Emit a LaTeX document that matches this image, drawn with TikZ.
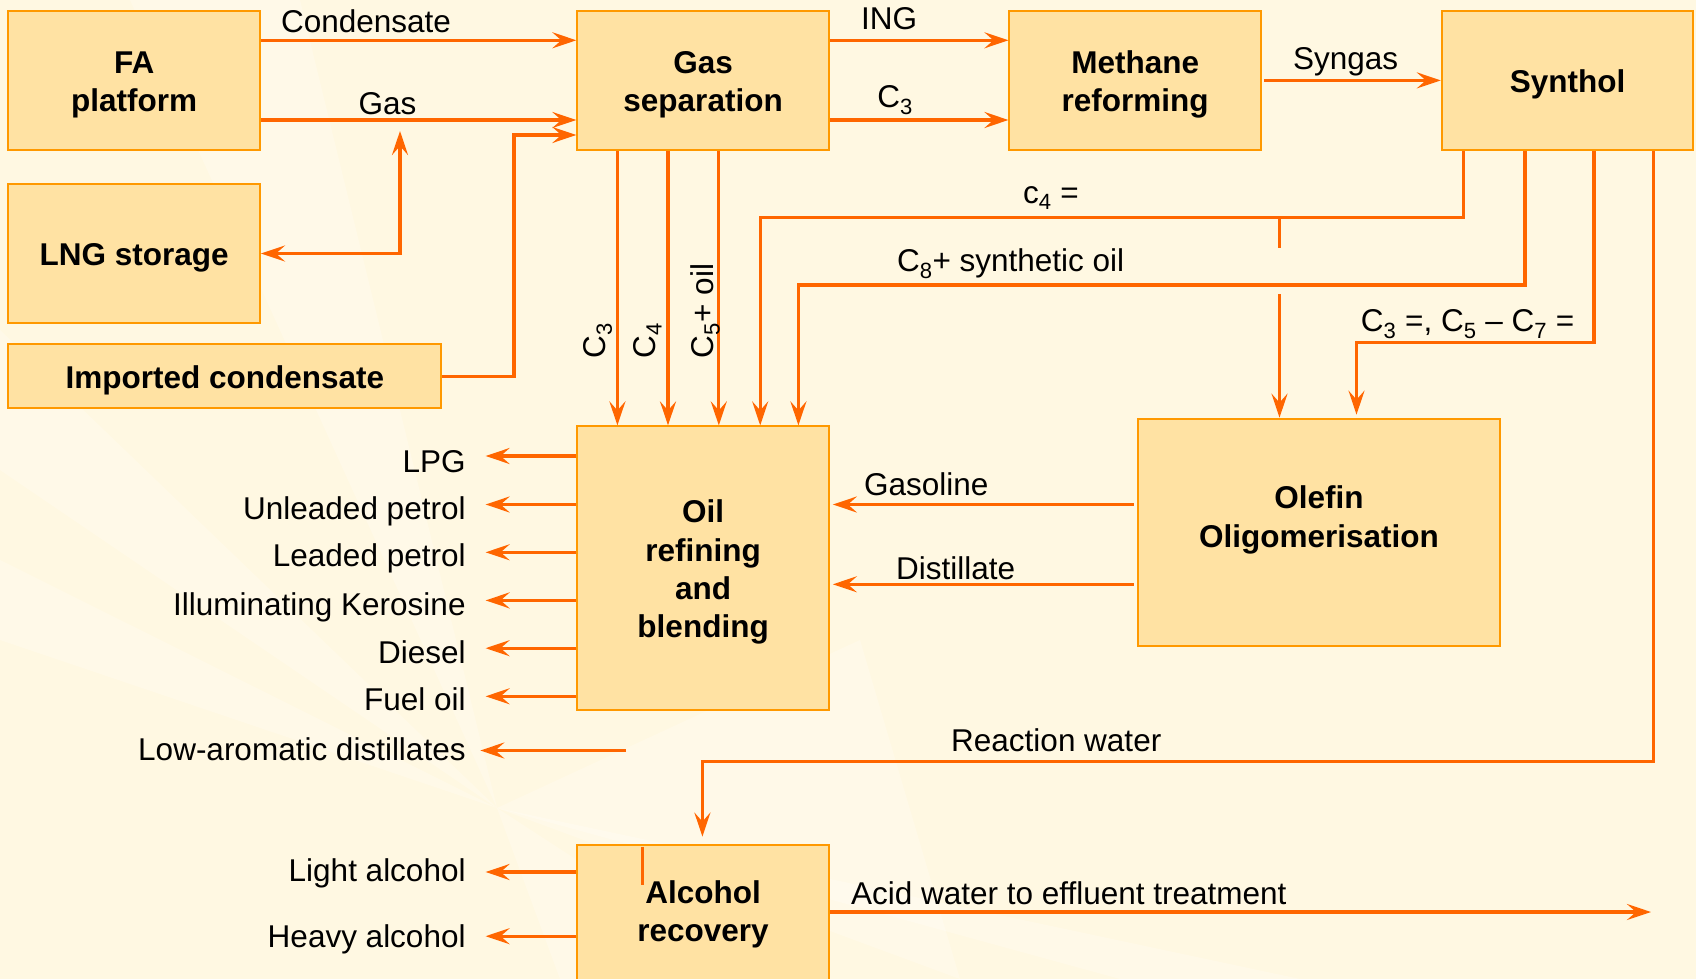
\documentclass[tikz,border=0pt]{standalone}
\usepackage{fontspec}
\setmainfont{Liberation Sans}
\usetikzlibrary{arrows.meta,calc}
\definecolor{bgc}{RGB}{255,248,226}
\definecolor{boxc}{RGB}{255,226,163}
\definecolor{bordc}{RGB}{255,153,0}
\definecolor{arrc}{RGB}{255,102,0}
\newcommand{\upstrut}{\rule{0pt}{31pt}}
\begin{document}
\begin{tikzpicture}[x=1pt,y=-1pt,
  box/.style={draw=bordc, fill=boxc, line width=2pt, minimum width=251.5pt, inner sep=0pt, align=center, font=\fontsize{31.5}{38.3}\selectfont\bfseries},
  boxtext/.style={inner sep=0pt, align=center, font=\fontsize{31.5}{38.3}\selectfont\bfseries},
  pipe/.style={draw=arrc, line width=3.3pt},
  flow/.style={pipe, -{Stealth[length=24pt,width=16pt,inset=9pt]}},
  both/.style={pipe, {Stealth[length=24pt,width=16pt,inset=9pt]}-{Stealth[length=24pt,width=16pt,inset=9pt]}},
  lbl/.style={inner sep=0pt, font=\fontsize{31.5}{38}\selectfont},
  ray/.style={fill=white, opacity=0.22, draw=none}
]
\clip (0,0) rectangle (1696,979);
\fill[bgc] (0,0) rectangle (1696,979);
% faint background rays
\fill[ray] (497,808) -- (0,330) -- (0,470) -- cycle;
\fill[ray] (497,808) -- (130,0) -- (300,0) -- cycle;
\fill[ray] (497,808) -- (0,560) -- (0,640) -- cycle;
\fill[ray] (497,808) -- (1120,979) -- (1300,979) -- cycle;
\fill[ray] (497,808) -- (760,979) -- (560,979) -- cycle;
\fill[ray] (497,808) -- (860,640) -- (960,979) -- cycle;

% boxes
\node[box, minimum height=139.3pt] (fa) at (134.2,80.4) {\upstrut FA\\platform};
\node[box, minimum height=139pt] (lng) at (134.2,253.5) {\upstrut LNG storage};
\node[box, minimum width=432.9pt, minimum height=64pt] (imp) at (224.9,376.3) {\upstrut Imported condensate};
\node[box, minimum height=139.3pt] (gs) at (703.1,80.4) {\upstrut Gas\\separation};
\node[box, minimum height=139.3pt] (mr) at (1135.2,80.4) {\upstrut Methane\\reforming};
\node[box, minimum width=251.4pt, minimum height=139.3pt] (syn) at (1567.5,80.4) {\upstrut Synthol};
\node[box, minimum height=283.4pt] (oil) at (703.1,568.1) {\upstrut Oil\\refining\\and\\blending};
\node[box, minimum width=362.4pt, minimum height=227.1pt] (ole) at (1319,532.2) {};
\node[boxtext] (oleT) at (1319,520) {Olefin\\Oligomerisation};
\node[box, minimum height=139.8pt] (alc) at (703.1,914.5) {Alcohol\\recovery};

% top flows
\draw[flow] (fa.east |- 0,40.3) -- (gs.west |- 0,40.3);
\node[lbl, anchor=base] (lcond) at (366,33) {Condensate};
\draw[flow] (fa.east |- 0,120) -- (gs.west |- 0,120);
\node[lbl, anchor=base] (lgas) at (387.5,115) {Gas};
\draw[flow] (imp.east) -- ++(71.5,0) |- (gs.west |- 0,135);
\coordinate (lngtap) at (400,131);
\draw[both] (lngtap) |- (lng.east);

\draw[flow] (gs.east |- 0,40.3) -- (mr.west |- 0,40.3);
\node[lbl, anchor=base] (ling) at (889,30) {ING};
\draw[flow] (gs.east |- 0,120) -- (mr.west |- 0,120);
\node[lbl, anchor=base] (lc3a) at (895,108) {C\textsubscript{3}};
\draw[flow] ([xshift=2pt]mr.east) -- (syn.west);
\node[lbl, anchor=base] (lsyn) at (1345.7,70) {Syngas};

% gas separation to oil refining
\draw[flow] (gs.south -| 617.4,0) -- (oil.north -| 617.4,0);
\draw[flow] (gs.south -| 668,0) -- (oil.north -| 668,0);
\draw[flow] (gs.south -| 718.8,0) -- (oil.north -| 718.8,0);
\node[lbl, rotate=90, anchor=base west] (lc3b) at (605,358.3) {C\textsubscript{3}};
\node[lbl, rotate=90, anchor=base west] (lc4b) at (655,358.3) {C\textsubscript{4}};
\node[lbl, rotate=90, anchor=base west] (lc5b) at (713,358.3) {C\textsubscript{5}+ oil};

% synthol outputs
\draw[flow] (syn.south -| 1463.4,0) -- ++(0,66.7) -| (oil.north -| 760.2,0);
\node[lbl, anchor=base] (lc4) at (1051,203.3) {c\textsubscript{4} =};
\draw[flow] (syn.south -| 1525,0) -- ++(0,134) -| (oil.north -| 798.4,0);
\node[lbl, anchor=base west] (lc8) at (896.8,271.7) {C\textsubscript{8}+ synthetic oil};
\coordinate (br1) at (1279.5,216.7);
\coordinate (br2) at (1279.5,248.3);
\coordinate (br3) at (1279.5,294.3);
\draw[pipe] (br1) -- (br2);
\draw[flow] (br3) -- (ole.north -| br3);
\draw[flow, shorten >=3pt] (syn.south -| 1594,0) -- ++(0,191.7) -| (ole.north -| 1356.5,0);
\node[lbl, anchor=base west] (lc3c) at (1360.7,331.7) {C\textsubscript{3} =, C\textsubscript{5} -- C\textsubscript{7} =};
\draw[flow, shorten >=7pt] (syn.south -| 1653.8,0) -- ++(0,610.5) -| (alc.north -| 702.4,0);
\node[lbl, anchor=base west] (lrw) at (951,751.5) {Reaction water};

% olefin to oil
\draw[flow, shorten <=3pt, shorten >=3pt] (ole.west |- 0,504.5) -- (oil.east |- 0,504.5);
\node[lbl, anchor=base west] (lgsl) at (864,495.6) {Gasoline};
\draw[flow, shorten <=3pt, shorten >=3pt] (ole.west |- 0,584.3) -- (oil.east |- 0,584.3);
\node[lbl, anchor=base west] (ldist) at (896,579.4) {Distillate};

% oil products
\coordinate (p1) at (485.6,456);
\coordinate (p2) at (485.6,504.5);
\coordinate (p3) at (485.6,552.3);
\coordinate (p4) at (485.6,600.4);
\coordinate (p5) at (485.6,648.2);
\coordinate (p6) at (485.6,696.3);
\draw[flow] (oil.west |- p1) -- (p1);
\draw[flow] (oil.west |- p2) -- (p2);
\draw[flow] (oil.west |- p3) -- (p3);
\draw[flow] (oil.west |- p4) -- (p4);
\draw[flow] (oil.west |- p5) -- (p5);
\draw[flow] (oil.west |- p6) -- (p6);
\node[lbl, anchor=base east] (lp1) at (465.8,472.6) {LPG};
\node[lbl, anchor=base east] (lp2) at (465.8,519.8) {Unleaded petrol};
\node[lbl, anchor=base east] (lp3) at (465.8,566.9) {Leaded petrol};
\node[lbl, anchor=base east] (lp4) at (465.8,615) {Illuminating Kerosine};
\node[lbl, anchor=base east] (lp5) at (465.8,663.3) {Diesel};
\node[lbl, anchor=base east] (lp6) at (465.8,710.5) {Fuel oil};
\coordinate (la1) at (626,750.5);
\coordinate (la2) at (480.3,750.5);
\draw[flow] (la1) -- (la2);
\node[lbl, anchor=base east] (lla) at (465.8,760.5) {Low-aromatic distillates};

% alcohol recovery
\coordinate (a1) at (485.6,872);
\coordinate (a2) at (485.6,936.2);
\draw[flow] (alc.west |- a1) -- (a1);
\draw[flow] (alc.west |- a2) -- (a2);
\node[lbl, anchor=base east] (la1t) at (465.8,881) {Light alcohol};
\node[lbl, anchor=base east] (la2t) at (465.8,947.6) {Heavy alcohol};
\coordinate (acid) at (1651,912);
\draw[flow] (alc.east |- acid) -- (acid);
\node[lbl, anchor=base west] (lacid) at (850.9,904.8) {Acid water to effluent treatment};
\coordinate (t1) at (642.3,846.7);
\coordinate (t2) at (642.3,885.2);
\draw[pipe] (t1) -- (t2);
\end{tikzpicture}
\end{document}
